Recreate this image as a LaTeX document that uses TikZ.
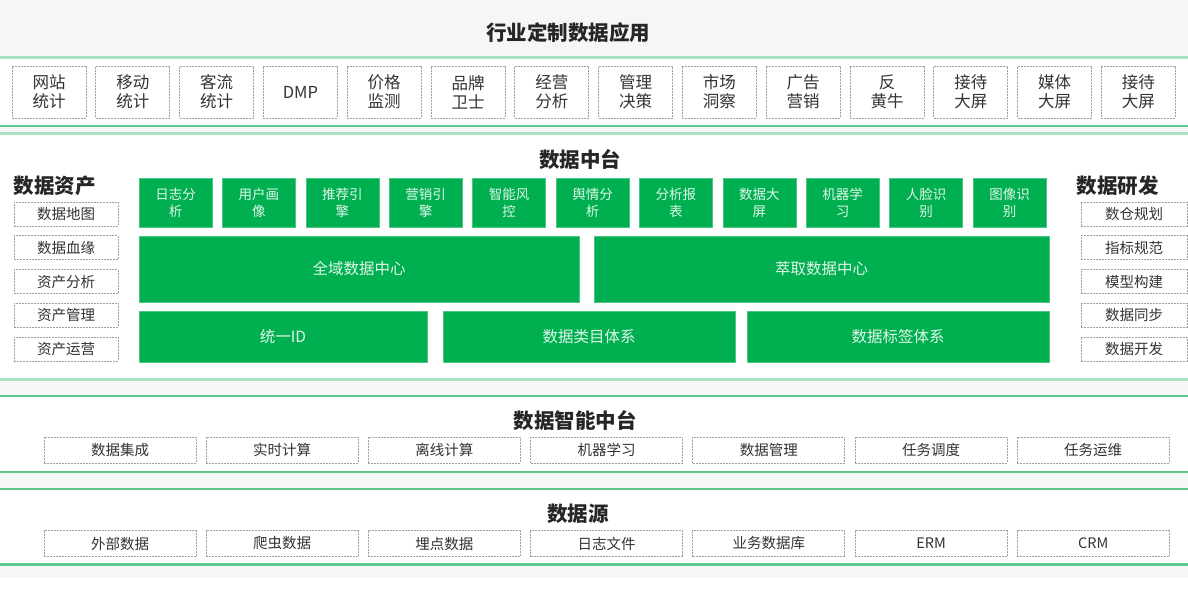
\documentclass[tikz,border=0pt]{standalone}
\usepackage{fontspec}
\setmainfont{Noto Sans CJK SC}
\definecolor{bggray}{HTML}{F5F7F7}
\definecolor{palegreen}{HTML}{A8E3C2}
\definecolor{linegreen}{HTML}{5BC98B}
\definecolor{boxgreen}{HTML}{00B050}
\definecolor{labelgray}{HTML}{333333}

\begin{document}
\begin{tikzpicture}[x=1pt, y=-1pt,
    layertitle/.style={font=\bfseries\fontsize{20.5}{24}\selectfont, text=black!85},
    sidetitle/.style={font=\bfseries\fontsize{20.5}{24}\selectfont, text=black!85, anchor=west},
    dashbox/.style={draw=gray!75, dash pattern=on 2pt off 1pt, line width=0.8pt, fill=white,
        text=labelgray, inner sep=0pt, align=center},
    appbox/.style={dashbox, minimum width=74pt, minimum height=52pt, font=\fontsize{16.5}{19}\selectfont},
    sidebox/.style={dashbox, minimum height=24pt, font=\fontsize{14.5}{16}\selectfont},
    layerbox/.style={dashbox, minimum width=152pt, minimum height=26pt, font=\fontsize{14.5}{16}\selectfont},
    greenbox/.style={fill=boxgreen, draw=boxgreen!70!white, line width=0.6pt, text=white!88!boxgreen,
        inner sep=0pt, align=center},
    paleline/.style={palegreen, line width=3pt},
    greenline/.style={linegreen, line width=2.5pt}]
        \useasboundingbox (0,0) rectangle (1188,604);
        \fill [bggray] (0,0) rectangle (1188,578);
        \fill [white] (0,58) rectangle (1188,126);
        \fill [white] (0,134) rectangle (1188,379);
        \fill [white] (0,396) rectangle (1188,472);
        \fill [white] (0,489) rectangle (1188,564);
        \draw [paleline] (0,57.5) -- (1188,57.5);
        \draw [greenline] (0,126) -- (1188,126);
        \draw [paleline] (0,134) -- (1188,134);
        \draw [paleline] (0,379) -- (1188,379);
        \draw [greenline] (0,396) -- (1188,396);
        \draw [greenline] (0,472) -- (1188,472);
        \draw [greenline] (0,489) -- (1188,489);
        \draw [greenline] (0,564.5) -- (1188,564.5);

        \node [layertitle] (apptitle) at (568,33) {行业定制数据应用};
        \foreach \t [count=\i from 0] in {{网站\\统计},{移动\\统计},{客流\\统计},DMP,{价格\\监测},
            {品牌\\卫士},{经营\\分析},{管理\\决策},{市场\\洞察},{广告\\营销},{反\\黄牛},
            {接待\\大屏},{媒体\\大屏},{接待\\大屏}}
            \node [appbox] (app\i) at ({49+83.8*\i},92) {\t};

        \node [layertitle] (midtitle) at (580,160) {数据中台};
        \node [sidetitle] (assettitle) at (10,186) {数据资产};
        \node [sidetitle] (devtitle) at (1073,186) {数据研发};
        \foreach \t [count=\i from 0] in {数据地图,数据血缘,资产分析,资产管理,资产运营}
            \node [sidebox, minimum width=104pt] (asset\i) at (66,{214+33.8*\i}) {\t};
        \foreach \t [count=\i from 0] in {数仓规划,指标规范,模型构建,数据同步,数据开发}
            \node [sidebox, minimum width=106pt] (dev\i) at (1134,{214+33.8*\i}) {\t};
        \foreach \t [count=\i from 0] in {{日志分\\析},{用户画\\像},{推荐引\\擎},{营销引\\擎},
            {智能风\\控},{舆情分\\析},{分析报\\表},{数据大\\屏},{机器学\\习},{人脸识\\别},{图像识\\别}}
            \node [greenbox, minimum width=73pt, minimum height=49pt, font=\fontsize{13.5}{17}\selectfont]
                (svc\i) at ({175.5+83.4*\i},202.5) {\t};
        \node [greenbox, minimum width=440pt, minimum height=66pt, font=\fontsize{15.5}{18}\selectfont]
            (allcenter) at (359,269) {全域数据中心};
        \node [greenbox, minimum width=455pt, minimum height=66pt, font=\fontsize{15.5}{18}\selectfont]
            (extcenter) at (821.5,269) {萃取数据中心};
        \node [greenbox, minimum width=288pt, minimum height=51pt, font=\fontsize{15.5}{18}\selectfont]
            (oneid) at (283,336.5) {统一ID};
        \node [greenbox, minimum width=292pt, minimum height=51pt, font=\fontsize{15.5}{18}\selectfont]
            (catsys) at (589,336.5) {数据类目体系};
        \node [greenbox, minimum width=302pt, minimum height=51pt, font=\fontsize{15.5}{18}\selectfont]
            (tagsys) at (898,336.5) {数据标签体系};

        \node [layertitle] (aititle) at (575,421) {数据智能中台};
        \foreach \t [count=\i from 0] in {数据集成,实时计算,离线计算,机器学习,数据管理,任务调度,任务运维}
            \node [layerbox] (ai\i) at ({120+162.2*\i},450) {\t};

        \node [layertitle] (srctitle) at (578,514) {数据源};
        \foreach \t [count=\i from 0] in {外部数据,爬虫数据,埋点数据,日志文件,业务数据库,ERM,CRM}
            \node [layerbox] (src\i) at ({120+162.2*\i},543.5) {\t};
    \end{tikzpicture}
\end{document}
